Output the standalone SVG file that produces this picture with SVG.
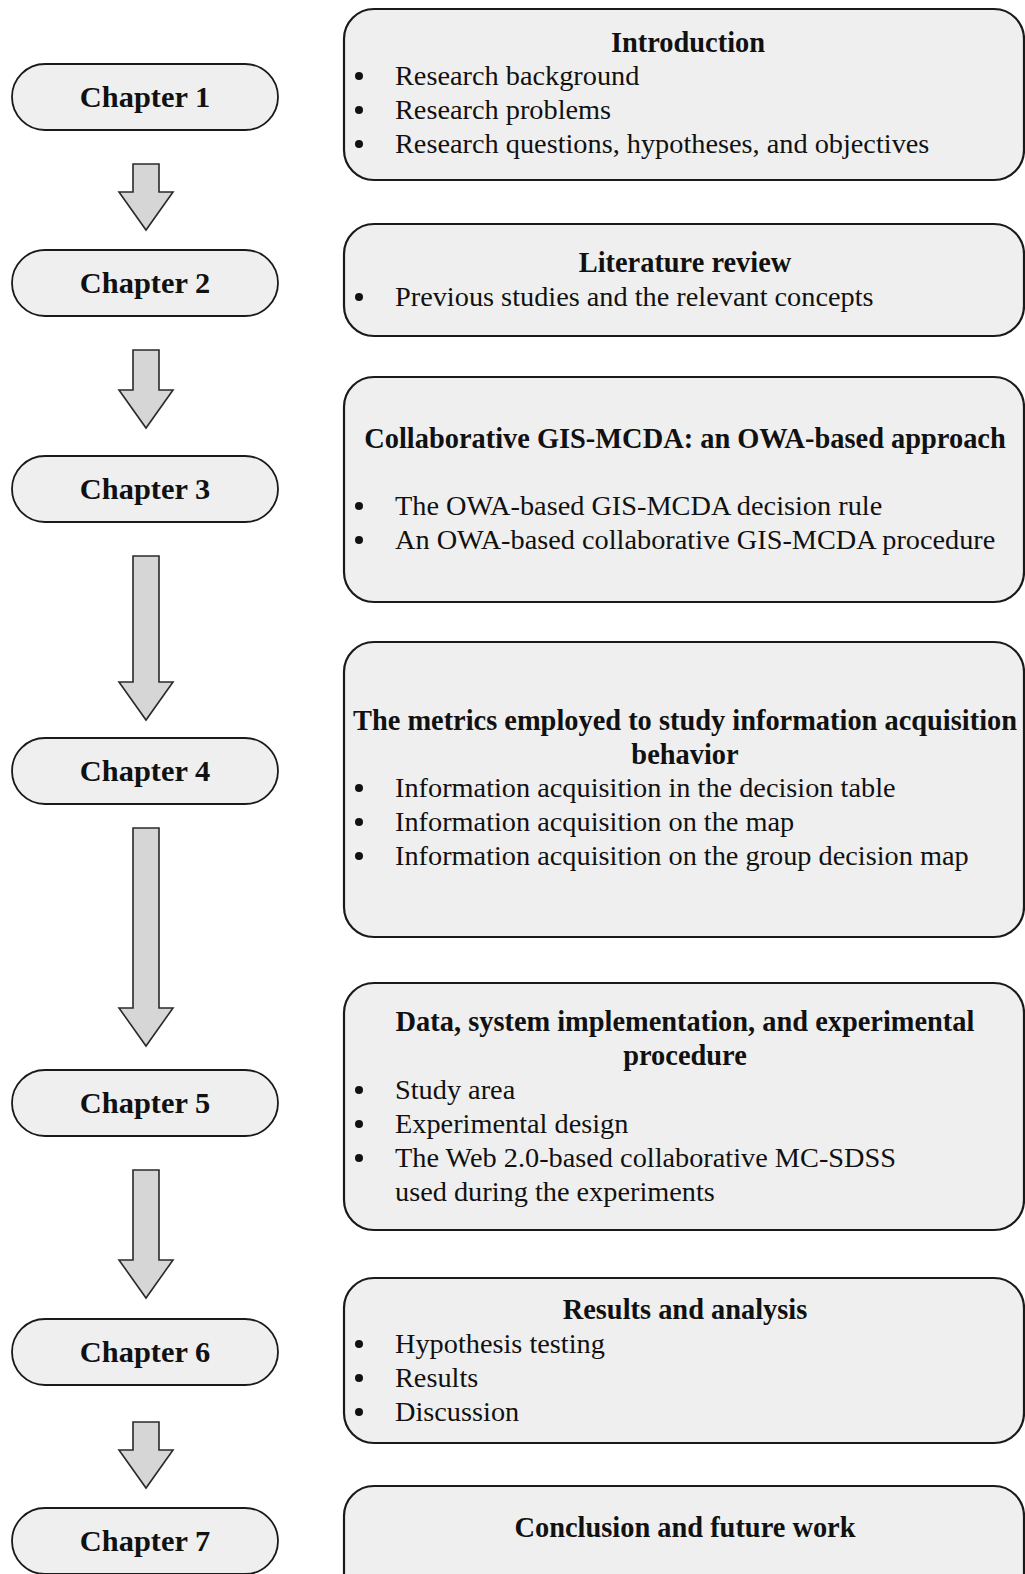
<svg xmlns="http://www.w3.org/2000/svg" width="1025" height="1574" viewBox="0 0 1025 1574">
  <style>
    .pill { fill: #efefef; stroke: #1a1a1a; stroke-width: 1.8; }
    .box { fill: #efefef; stroke: #1a1a1a; stroke-width: 2.2; }
    .arrow { fill: #d6d6d6; stroke: #2a2a2a; stroke-width: 1.6; stroke-linejoin: miter; }
    .chap { font-family: "Liberation Serif", "Times New Roman", serif; font-weight: bold; font-size: 30.4px; fill: #111; text-anchor: middle; }
    .title { font-family: "Liberation Serif", "Times New Roman", serif; font-weight: bold; font-size: 28.4px; fill: #111; text-anchor: middle; }
    .item { font-family: "Liberation Serif", "Times New Roman", serif; font-size: 28.3px; fill: #111; }
    .dot { fill: #111; }
  </style>
  <rect width="1025" height="1574" fill="#ffffff"/>

  <!-- chapter pills on the left -->
  <g id="chapter1"><rect class="pill" x="12" y="64" width="266" height="66" rx="33"/><text class="chap" x="145" y="107">Chapter 1</text></g>
  <g id="chapter2"><rect class="pill" x="12" y="250" width="266" height="66" rx="33"/><text class="chap" x="145" y="293">Chapter 2</text></g>
  <g id="chapter3"><rect class="pill" x="12" y="456" width="266" height="66" rx="33"/><text class="chap" x="145" y="499">Chapter 3</text></g>
  <g id="chapter4"><rect class="pill" x="12" y="738" width="266" height="66" rx="33"/><text class="chap" x="145" y="781">Chapter 4</text></g>
  <g id="chapter5"><rect class="pill" x="12" y="1070" width="266" height="66" rx="33"/><text class="chap" x="145" y="1113">Chapter 5</text></g>
  <g id="chapter6"><rect class="pill" x="12" y="1319" width="266" height="66" rx="33"/><text class="chap" x="145" y="1362">Chapter 6</text></g>
  <g id="chapter7"><rect class="pill" x="12" y="1508" width="266" height="66" rx="33"/><text class="chap" x="145" y="1551">Chapter 7</text></g>

  <!-- block arrows between chapters -->
  <g id="connectors">
    <path class="arrow" d="M133,164 H159 V192 H173 L146,230 L119,192 H133 Z"/>
    <path class="arrow" d="M133,350 H159 V390 H173 L146,428 L119,390 H133 Z"/>
    <path class="arrow" d="M133,556 H159 V682 H173 L146,720 L119,682 H133 Z"/>
    <path class="arrow" d="M133,828 H159 V1008 H173 L146,1046 L119,1008 H133 Z"/>
    <path class="arrow" d="M133,1170 H159 V1260 H173 L146,1298 L119,1260 H133 Z"/>
    <path class="arrow" d="M133,1422 H159 V1450 H173 L146,1488 L119,1450 H133 Z"/>
  </g>

  <!-- content boxes on the right -->
  <g id="box1">
    <rect class="box" x="344" y="9" width="680" height="171" rx="30"/>
    <text class="title" x="688" y="52">Introduction</text>
    <circle class="dot" cx="359" cy="76" r="4"/><text class="item" x="395" y="85">Research background</text>
    <circle class="dot" cx="359" cy="110" r="4"/><text class="item" x="395" y="119">Research problems</text>
    <circle class="dot" cx="359" cy="144" r="4"/><text class="item" x="395" y="153">Research questions, hypotheses, and objectives</text>
  </g>
  <g id="box2">
    <rect class="box" x="344" y="224" width="680" height="112" rx="30"/>
    <text class="title" x="685" y="272">Literature review</text>
    <circle class="dot" cx="359" cy="297" r="4"/><text class="item" x="395" y="306">Previous studies and the relevant concepts</text>
  </g>
  <g id="box3">
    <rect class="box" x="344" y="377" width="680" height="225" rx="30"/>
    <text class="title" x="685" y="448">Collaborative GIS-MCDA: an OWA-based approach</text>
    <circle class="dot" cx="359" cy="506" r="4"/><text class="item" x="395" y="515">The OWA-based GIS-MCDA decision rule</text>
    <circle class="dot" cx="359" cy="540" r="4"/><text class="item" x="395" y="549">An OWA-based collaborative GIS-MCDA procedure</text>
  </g>
  <g id="box4">
    <rect class="box" x="344" y="642" width="680" height="295" rx="30"/>
    <text class="title" x="685" y="730">The metrics employed to study information acquisition</text>
    <text class="title" x="685" y="764">behavior</text>
    <circle class="dot" cx="359" cy="788" r="4"/><text class="item" x="395" y="797">Information acquisition in the decision table</text>
    <circle class="dot" cx="359" cy="822" r="4"/><text class="item" x="395" y="831">Information acquisition on the map</text>
    <circle class="dot" cx="359" cy="856" r="4"/><text class="item" x="395" y="865">Information acquisition on the group decision map</text>
  </g>
  <g id="box5">
    <rect class="box" x="344" y="983" width="680" height="247" rx="30"/>
    <text class="title" x="685" y="1031">Data, system implementation, and experimental</text>
    <text class="title" x="685" y="1065">procedure</text>
    <circle class="dot" cx="359" cy="1090" r="4"/><text class="item" x="395" y="1099">Study area</text>
    <circle class="dot" cx="359" cy="1124" r="4"/><text class="item" x="395" y="1133">Experimental design</text>
    <circle class="dot" cx="359" cy="1158" r="4"/><text class="item" x="395" y="1167">The Web 2.0-based collaborative MC-SDSS</text>
    <text class="item" x="395" y="1201">used during the experiments</text>
  </g>
  <g id="box6">
    <rect class="box" x="344" y="1278" width="680" height="165" rx="30"/>
    <text class="title" x="685" y="1319">Results and analysis</text>
    <circle class="dot" cx="359" cy="1344" r="4"/><text class="item" x="395" y="1353">Hypothesis testing</text>
    <circle class="dot" cx="359" cy="1378" r="4"/><text class="item" x="395" y="1387">Results</text>
    <circle class="dot" cx="359" cy="1412" r="4"/><text class="item" x="395" y="1421">Discussion</text>
  </g>
  <g id="box7">
    <rect class="box" x="344" y="1486" width="680" height="120" rx="30"/>
    <text class="title" x="685" y="1537">Conclusion and future work</text>
  </g>
</svg>
